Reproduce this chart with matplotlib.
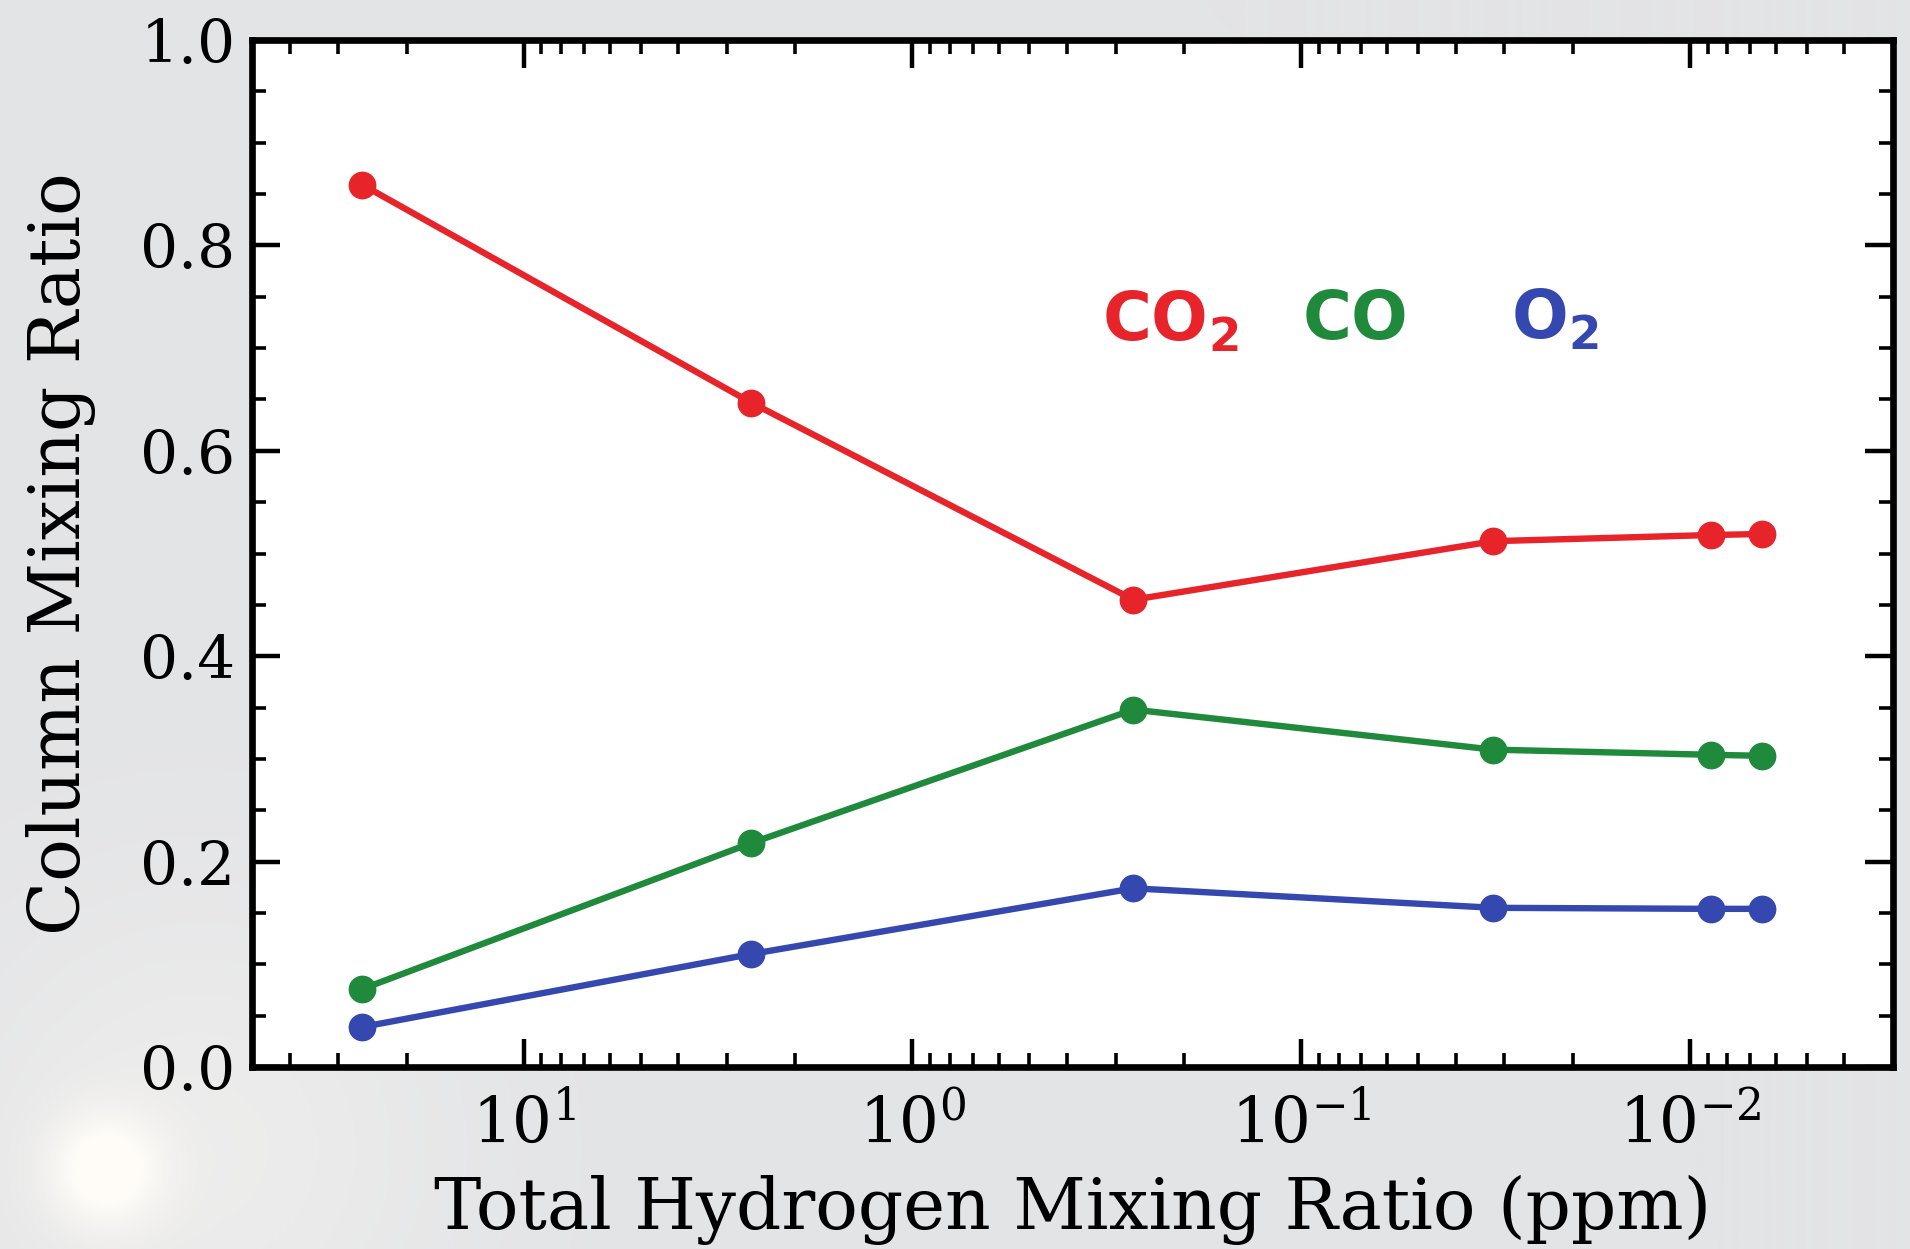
import numpy as np
import matplotlib
matplotlib.use("Agg")
import matplotlib.pyplot as plt
from matplotlib.ticker import LogLocator, MultipleLocator, NullFormatter, FormatStrFormatter

plt.rcParams["font.family"] = ["DejaVu Serif"]
plt.rcParams["mathtext.fontset"] = "custom"
plt.rcParams["mathtext.rm"] = "DejaVu Serif"
plt.rcParams["mathtext.bf"] = "DejaVu Sans:bold"
plt.rcParams["axes.unicode_minus"] = False

# Total hydrogen mixing ratio (ppm) for each model run
hydrogen_ppm = [26.0, 2.6, 0.27, 0.032, 0.0088, 0.0065]

# Column mixing ratios of the main species
co2 = [0.859, 0.647, 0.455, 0.512, 0.518, 0.519]
co = [0.076, 0.218, 0.348, 0.309, 0.304, 0.303]
o2 = [0.039, 0.110, 0.174, 0.155, 0.154, 0.154]

species_labels = [r"$\mathbf{CO_2}$", r"$\mathbf{CO}$", r"$\mathbf{O_2}$"]
species_colors = ["#e8242b", "#1f8a3b", "#3448b0"]

W, H = 1910, 1249
fig = plt.figure(figsize=(W / 100, H / 100), dpi=100)
fig.patch.set_facecolor("#e3e4e6")

# soft glow in the lower-left corner of the backdrop
bg = fig.add_axes([0, 0, 1, 1], zorder=-10)
yy, xx = np.mgrid[0:H, 0:W]
r2 = ((xx - 105) ** 2 + (yy - (H - 1170)) ** 2) / (55.0 ** 2)
glow = np.exp(-r2)
r2b = ((xx - 200) ** 2 + (yy - (H - 1150)) ** 2) / (260.0 ** 2)
glow_wide = 0.35 * np.exp(-r2b)
base = np.array([0xe3, 0xe4, 0xe6]) / 255.0
amt = np.clip(glow + glow_wide, 0, 1)[..., None]
img = base * (1 - amt) + np.array([1.0, 0.99, 0.97]) * amt
bg.imshow(img, origin="lower", extent=[0, 1, 0, 1], aspect="auto")
bg.axis("off")

left, right = 252 / W, 1893 / W
bottom, top = 1 - 1067 / H, 1 - 40 / H
ax = fig.add_axes([left, bottom, right - left, top - bottom])
ax.set_facecolor("white")

for vals, col in zip([co2, co, o2], species_colors):
    ax.plot(hydrogen_ppm, vals, color=col, lw=4.6, marker="o", ms=19,
            solid_capstyle="round")

ax.set_xscale("log")
ax.set_xlim(50, 0.003)
ax.set_ylim(0.0, 1.0)

ax.yaxis.set_major_locator(MultipleLocator(0.2))
ax.yaxis.set_minor_locator(MultipleLocator(0.05))
ax.yaxis.set_major_formatter(FormatStrFormatter("%.1f"))
ax.xaxis.set_major_locator(LogLocator(base=10, numticks=20))
ax.xaxis.set_minor_locator(LogLocator(base=10, subs=np.arange(2, 10), numticks=20))
ax.xaxis.set_minor_formatter(NullFormatter())

ax.tick_params(which="both", direction="in", top=True, right=True)
ax.tick_params(which="major", length=20, width=3.2, labelsize=43, pad=12)
ax.tick_params(which="minor", length=10, width=2.6)
ax.tick_params(axis="x", which="major", pad=20, labelsize=45)
for s in ax.spines.values():
    s.set_linewidth(4.8)

ax.set_xlabel("Total Hydrogen Mixing Ratio (ppm)", fontsize=51, labelpad=14)
ax.set_ylabel("Column Mixing Ratio", fontsize=51, labelpad=32)

label_pos = [(0.518, 0.707), (0.640, 0.709), (0.767, 0.709)]
for txt, col, (lx, ly) in zip(species_labels, species_colors, label_pos):
    ax.text(lx, ly, txt, color=col, fontsize=48, transform=ax.transAxes,
            ha="left", va="baseline")

fig.savefig("out.png", dpi=100, facecolor=fig.get_facecolor())
